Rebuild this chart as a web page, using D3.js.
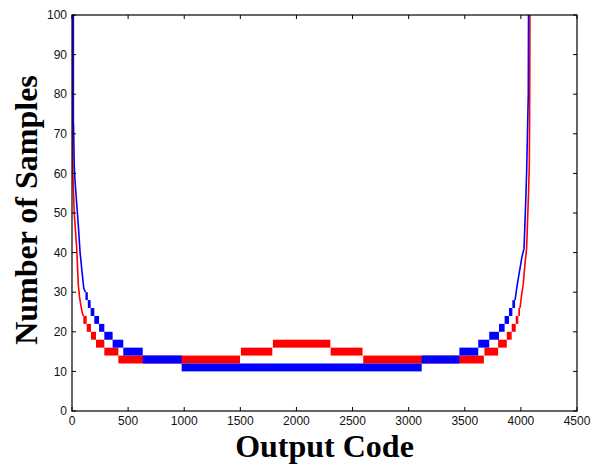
<!DOCTYPE html>
<html>
<head>
<meta charset="utf-8">
<script src="https://cdn.jsdelivr.net/npm/d3@7"></script>
<style>
  body { margin: 0; background: #fff; }
  .tick-label { font-family: "Liberation Sans", Arial, sans-serif; font-size: 12px; fill: #111; }
  .axis-title { font-family: "Liberation Serif", "Times New Roman", serif; font-weight: bold; font-size: 32px; fill: #000; }
</style>
</head>
<body>
<div id="chart"></div>
<script>
// x / y tick values
var xTicks = [0, 500, 1000, 1500, 2000, 2500, 3000, 3500, 4000, 4500]
var yTicks = [0, 10, 20, 30, 40, 50, 60, 70, 80, 90, 100]

// histogram plateaus: [first code, last code, count level]
var redSteps = [
  [101, 131, 23], [131, 169, 21], [169, 214, 19], [214, 288, 17], [288, 413, 15],
  [413, 1497, 13], [1505, 1785, 15], [1790, 2302, 17], [2305, 2589, 15], [2595, 3670, 13],
  [3675, 3797, 15], [3797, 3874, 17], [3874, 3918, 19], [3918, 3954, 21], [3954, 3977, 23],
  [3977, 3992, 25]
]
var blueSteps = [
  [120, 141, 29], [141, 166, 27], [166, 199, 25], [199, 241, 23], [241, 288, 21],
  [288, 362, 19], [362, 457, 17], [457, 630, 15], [630, 977, 13], [977, 3116, 11],
  [3116, 3452, 13], [3452, 3620, 15], [3620, 3718, 17], [3718, 3805, 19], [3805, 3855, 21],
  [3855, 3894, 23], [3894, 3924, 25], [3924, 3948, 27]
]

// steep ends of the histogram: [code, count]
var redLeft = [[3, 100], [4, 80], [6, 62], [10, 58], [20, 50], [30, 46], [42, 41], [56, 32], [66, 29], [77, 27], [90, 25], [101, 24]]
var redRight = [[3992, 26], [4005, 29], [4021, 32], [4036, 37], [4051, 41], [4062, 50], [4068, 55], [4075, 62], [4078, 75], [4081, 100]]
var blueLeft = [[12, 100], [12, 73], [14, 72], [20, 62], [27, 58], [35, 55], [56, 47], [72, 40], [90, 35], [105, 31], [120, 30]]
var blueRight = [[3948, 28], [3958, 30], [3968, 32], [3980, 34], [3992, 36], [4010, 39], [4028, 41], [4042, 52], [4051, 60], [4060, 72], [4066, 80], [4068, 100]]

var svgWidth = 591
var svgHeight = 465
var margin = { top: 15, left: 72 }
var width = 505
var height = 396

var svg = d3.select('#chart')
  .append('svg')
  .attr('width', svgWidth)
  .attr('height', svgHeight)

var g = svg.append('g')
  .attr('transform', `translate(${margin.left}, ${margin.top})`)

var x = d3.scaleLinear().domain([0, 4500]).range([0, width])
var y = d3.scaleLinear().domain([0, 100]).range([height, 0])

// clip so the curves stop at the frame
svg.append('defs').append('clipPath').attr('id', 'plot-clip')
  .append('rect').attr('width', width).attr('height', height)

var plot = g.append('g').attr('clip-path', 'url(#plot-clip)')

var line = d3.line()
  .x(d => x(d[0]))
  .y(d => y(d[1]))

function drawSeries (steps, left, right, color) {
  plot.selectAll(null)
    .data(steps)
    .enter()
    .append('rect')
    .attr('x', d => x(d[0]))
    .attr('width', d => x(d[1]) - x(d[0]))
    .attr('y', d => y(d[2] + 1))
    .attr('height', d => y(d[2] - 1) - y(d[2] + 1))
    .attr('fill', color)

  ;[left, right].forEach(function (pts) {
    plot.append('path')
      .datum(pts)
      .attr('d', line)
      .attr('fill', 'none')
      .attr('stroke', color)
      .attr('stroke-width', 1.6)
  })
}

drawSeries(redSteps, redLeft, redRight, '#ff0000')
drawSeries(blueSteps, blueLeft, blueRight, '#0000ff')

// frame + inward ticks on all four sides
var tickLen = 4
var axes = g.append('g').attr('stroke', '#000')

axes.append('rect')
  .attr('width', width)
  .attr('height', height)
  .attr('fill', 'none')
  .attr('stroke-width', 1.2)

xTicks.forEach(function (t) {
  axes.append('line').attr('x1', x(t)).attr('x2', x(t)).attr('y1', height).attr('y2', height - tickLen)
  axes.append('line').attr('x1', x(t)).attr('x2', x(t)).attr('y1', 0).attr('y2', tickLen)
})
yTicks.forEach(function (t) {
  axes.append('line').attr('x1', 0).attr('x2', tickLen).attr('y1', y(t)).attr('y2', y(t))
  axes.append('line').attr('x1', width).attr('x2', width - tickLen).attr('y1', y(t)).attr('y2', y(t))
})

g.selectAll('.xlab')
  .data(xTicks)
  .enter()
  .append('text')
  .attr('class', 'tick-label')
  .attr('x', d => x(d))
  .attr('y', height + 14)
  .attr('text-anchor', 'middle')
  .text(d => d)

g.selectAll('.ylab')
  .data(yTicks)
  .enter()
  .append('text')
  .attr('class', 'tick-label')
  .attr('x', -5)
  .attr('y', d => y(d))
  .attr('dy', '0.35em')
  .attr('text-anchor', 'end')
  .text(d => d)

// axis titles
svg.append('text')
  .attr('class', 'axis-title')
  .attr('x', margin.left + width / 2)
  .attr('y', 457)
  .attr('text-anchor', 'middle')
  .text('Output Code')

svg.append('text')
  .attr('class', 'axis-title')
  .attr('transform', `translate(37, ${margin.top + height / 2 - 3}) rotate(-90)`)
  .attr('text-anchor', 'middle')
  .text('Number of Samples')
</script>
</body>
</html>
